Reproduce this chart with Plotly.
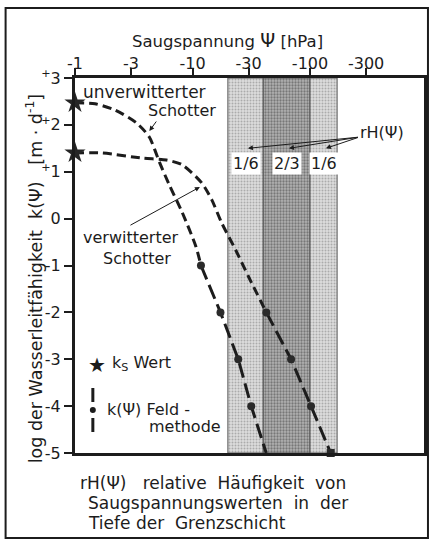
import math
import plotly.graph_objects as go

# ---------------- data ----------------
x_tick_vals = [1, 3, 10, 30, 100, 300]
x_tick_text = ["-1", "-3", "-10", "-30", "-100", "-300"]
y_tick_vals = [3, 2, 1, 0, -1, -2, -3, -4, -5]
y_tick_text = ["<sup>+</sup>3", "<sup>+</sup>2", "<sup>+</sup>1", "0",
               "-1", "-2", "-3", "-4", "-5"]

# suction |psi| in hPa (axis labelled with negative values), log10 k
unverw_psi = [1, 1.48, 2.18, 3.34, 4.29, 5.22, 6.34, 8.15, 10.7, 11.8]
unverw_logk = [2.47, 2.45, 2.32, 2.04, 1.74, 1.21, 0.72, 0.14, -0.60, -1.0]
unverw_field_psi = [11.8, 17.3, 24.5, 31.6, 42.4]
unverw_field_logk = [-1.0, -2.0, -3.0, -4.0, -5.0]

verw_psi = [1, 1.7, 3.75, 6.0, 8.15, 12.0, 14.6, 17.7, 23.3, 30.0, 42.5]
verw_logk = [1.40, 1.40, 1.29, 1.25, 1.15, 0.76, 0.40, -0.09, -0.67, -1.24, -2.0]
verw_field_psi = [42.5, 69, 102, 150]
verw_field_logk = [-2.0, -3.0, -4.0, -5.0]

ks_psi = [1, 1]
ks_logk = [2.47, 1.40]

band_edges = [20, 40, 100, 170]
band_labels = ["1/6", "2/3", "1/6"]

# ---------------- layout helpers ----------------
W, H = 433, 541
L, R, T, B = 75, 6, 78, 88
PW, PH = W - L - R, H - T - B
FONT = "DejaVu Sans"
INK = "#1c1c1c"


def P(x, y):
    """pixel position -> paper coords"""
    return (x - L) / PW, (H - B - y) / PH


fig = go.Figure()

# bands of relative frequency
band_styles = [
    dict(bg="#dddddd", fg="#7a7a7a", sol=0.35),
    dict(bg="#b2b2b2", fg="#3c3c3c", sol=0.45),
    dict(bg="#dddddd", fg="#7a7a7a", sol=0.35),
]
for i, st in enumerate(band_styles):
    a, b = band_edges[i], band_edges[i + 1]
    fig.add_trace(go.Scatter(
        x=[a, b, b, a, a], y=[-5, -5, 3, 3, -5], mode="lines", fill="toself",
        fillcolor=st["bg"],
        fillpattern=dict(shape=".", bgcolor=st["bg"], fgcolor=st["fg"],
                         size=3, solidity=st["sol"], fillmode="overlay"),
        line=dict(color="#555", width=1), hoverinfo="skip", showlegend=False))

dash_upper = "9px,5px"
dash_field = "15px,6px"

fig.add_trace(go.Scatter(x=unverw_psi, y=unverw_logk, mode="lines",
                         line=dict(color=INK, width=3, dash=dash_upper, shape="spline", smoothing=0.7),
                         showlegend=False, cliponaxis=False))
fig.add_trace(go.Scatter(x=verw_psi, y=verw_logk, mode="lines",
                         line=dict(color=INK, width=3, dash=dash_upper, shape="spline", smoothing=0.7),
                         showlegend=False, cliponaxis=False))
fig.add_trace(go.Scatter(x=unverw_field_psi, y=unverw_field_logk, mode="lines",
                         line=dict(color=INK, width=3, dash=dash_field),
                         showlegend=False))
fig.add_trace(go.Scatter(x=unverw_field_psi[:-1], y=unverw_field_logk[:-1], mode="markers",
                         marker=dict(color="#2a2a2a", size=8), showlegend=False))
fig.add_trace(go.Scatter(x=verw_field_psi, y=verw_field_logk, mode="lines",
                         line=dict(color=INK, width=3, dash=dash_field),
                         showlegend=False))
fig.add_trace(go.Scatter(x=verw_field_psi, y=verw_field_logk, mode="markers",
                         marker=dict(color="#2a2a2a", size=8,
                                     symbol=["circle"] * (len(verw_field_psi) - 1) + ["square"]),
                         showlegend=False, cliponaxis=False))
fig.add_trace(go.Scatter(x=ks_psi, y=ks_logk, mode="markers",
                         marker=dict(symbol="star", size=16, color="#262626"),
                         showlegend=False, cliponaxis=False))

ann = []


def text(s, x, y, size=16, xanchor="left", yanchor="middle", **kw):
    px, py = P(x, y)
    ann.append(dict(text=s, x=px, y=py, xref="paper", yref="paper", showarrow=False,
                    xanchor=xanchor, yanchor=yanchor,
                    font=dict(family=FONT, size=size, color=INK), **kw))


def arrow(x_head, y_head, x_tail, y_tail):
    hx, hy = P(x_head, y_head)
    ann.append(dict(text="", x=hx, y=hy, xref="paper", yref="paper", showarrow=True,
                    ax=x_tail - x_head, ay=y_tail - y_head, arrowhead=2, arrowsize=1,
                    arrowwidth=1, arrowcolor=INK))


text("Saugspannung\u00a0<span style='font-size:19px'>Ψ</span>\u00a0[hPa]", 229, 40, size=16.5, xanchor="center")
text("unverwitterter", 81, 92, size=17)
text("Schotter", 147, 111)
arrow(150, 131, 158, 120)
text("verwitterter", 81, 237)
text("Schotter", 101, 258)
arrow(201, 187, 130, 226)

# band labels with arrows from rH(Ψ)
for i, lab in enumerate(band_labels):
    c = math.log10(math.sqrt(band_edges[i] * band_edges[i + 1]))
    ann.append(dict(text=lab, x=c, y=1.18, xref="x", yref="y", showarrow=False,
                    bgcolor="white", borderpad=1,
                    font=dict(family=FONT, size=16, color=INK)))
    ann.append(dict(text="", x=c + 0.02, y=1.5, xref="x", yref="y", showarrow=True,
                    axref="x", ayref="y", ax=2.42, ay=1.74,
                    arrowhead=2, arrowsize=1, arrowwidth=1, arrowcolor=INK))
text("rH(Ψ)", 360, 133)

# legend
text("★", 97, 365, size=20, xanchor="center")
text("k<sub>S</sub>\u00a0Wert", 110, 363)
text("k(Ψ)\u00a0Feld\u00a0-", 105, 409)
text("methode", 148, 426)

# y axis title
text("log der Wasserleitfähigkeit\u00a0\u00a0k(Ψ)\u00a0\u00a0\u00a0[m\u00a0·\u00a0d<sup>-1</sup>]",
     34, 279, size=17.5, xanchor="center", textangle=-90)

# caption
text("rH(Ψ)\u00a0\u00a0\u00a0relative\u00a0\u00a0Häufigkeit\u00a0\u00a0von", 78, 483, size=17)
text("Saugspannungswerten\u00a0\u00a0in\u00a0\u00a0der", 86, 503, size=17)
text("Tiefe\u00a0der\u00a0\u00a0Grenzschicht", 86, 523, size=17)

shapes = []
# field-method legend symbol
for y0, y1 in [(388, 402), (418, 432)]:
    a0 = P(93, y0)
    a1 = P(93, y1)
    shapes.append(dict(type="line", xref="paper", yref="paper", x0=a0[0], y0=a0[1],
                       x1=a1[0], y1=a1[1], line=dict(color=INK, width=3)))
c0 = P(90, 407)
c1 = P(96, 413)
shapes.append(dict(type="circle", xref="paper", yref="paper", x0=c0[0], y0=c0[1],
                   x1=c1[0], y1=c1[1], fillcolor=INK, line=dict(width=0)))
# outer frame
f0 = P(5, 8)
f1 = P(431, 538)
shapes.append(dict(type="rect", xref="paper", yref="paper", x0=f0[0], y0=f0[1],
                   x1=f1[0], y1=f1[1], line=dict(color=INK, width=2)))

fig.update_layout(
    width=W, height=H, autosize=False,
    margin=dict(l=L, r=R, t=T, b=B),
    paper_bgcolor="white", plot_bgcolor="white",
    annotations=ann, shapes=shapes,
    font=dict(family=FONT, size=16, color=INK),
    xaxis=dict(type="log", range=[0, 2.97], side="top", tickvals=x_tick_vals,
               ticktext=x_tick_text, ticks="outside", ticklen=7, tickwidth=2,
               ticklabelstandoff=-7,
               tickcolor=INK, showline=True, linewidth=3, linecolor=INK, mirror=True,
               showgrid=False, zeroline=False, tickfont=dict(family=FONT, size=16, color=INK)),
    yaxis=dict(range=[-5, 3], tickvals=y_tick_vals, ticktext=y_tick_text,
               ticks="outside", ticklen=8, tickwidth=2, tickcolor=INK,
               showline=True, linewidth=3, linecolor=INK, mirror=True,
               showgrid=False, zeroline=False, tickfont=dict(family=FONT, size=16, color=INK)),
)

fig.write_html("out.html", config={"displayModeBar": False},
               post_script="document.body.style.margin='0px';")
